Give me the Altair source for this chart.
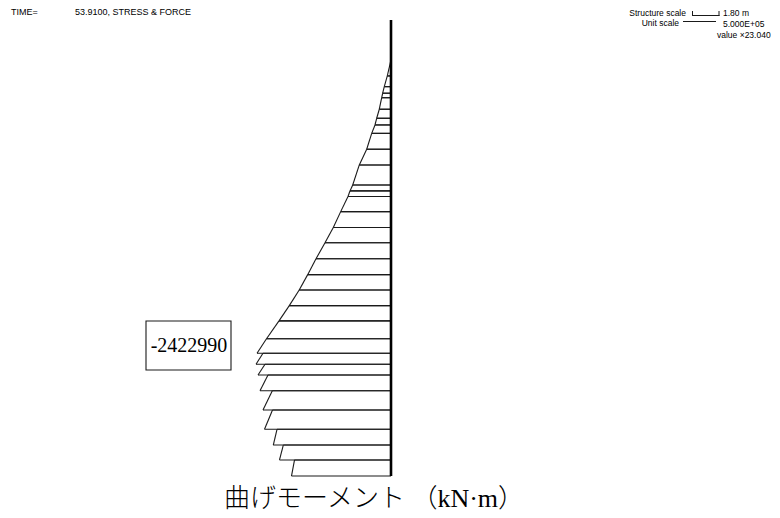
import altair as alt
import pandas as pd

# Node elevations along the member, measured up from the base (m)
node_elev = [26.74, 25.71, 25.02, 24.60, 24.31, 23.57, 22.99, 22.56, 22.02, 21.00,
             19.99, 18.70, 18.32, 17.96, 16.99, 15.97, 14.99, 13.96, 12.94, 11.95,
             10.95, 9.97, 8.82, 7.89, 7.18, 6.49, 5.48, 4.24, 3.00, 1.99, 1.03, 0.0]

# Bending moment at the upper (i) and lower (j) end of each element (kN·m)
moment_i = [0, -66400, -120300, -149000, -166900, -210000, -256700, -287200, -346400, -436100,
            -568900, -687400, -735900, -771800, -902800, -1035600, -1184600, -1346100, -1495100, -1647600,
            -1825300, -2010200, -2234500, -2297300, -2261400, -2207600, -2130400, -2126800, -2046100,
            -1933000, -1732000]
moment_j = [-66400, -120300, -149000, -166900, -210000, -256700, -287200, -346400, -436100, -568900,
            -687400, -735900, -771800, -902800, -1035600, -1184600, -1346100, -1495100, -1647600, -1825300,
            -2010200, -2234500, -2405000, -2422990, -2387100, -2351200, -2297300, -2270400, -2112500,
            -2001200, -1785800]

member_top = 29.3   # top of the member (m)
peak_label = "-2422990"

elements = pd.DataFrame({
    "e_top": node_elev[:-1],
    "e_bot": node_elev[1:],
    "m_i": moment_i,
    "m_j": moment_j,
})
elements["zero"] = 0

X_SCALE = alt.Scale(domain=[-7017700, 6981800], nice=False, zero=False)
Y_SCALE = alt.Scale(domain=[-2.70, 30.59], nice=False, zero=False)
INK = "#1a1a1a"
SANS = "'Liberation Sans', Arial, sans-serif"
SERIF = "'Liberation Serif', 'Noto Sans CJK JP', serif"


def X(field):
    return alt.X(field, type="quantitative", scale=X_SCALE, axis=None)


def Y(field):
    return alt.Y(field, type="quantitative", scale=Y_SCALE, axis=None)


base = alt.Chart(elements)

# Diagram outline within each element
outline = base.mark_rule(stroke=INK, strokeWidth=1.1).encode(
    x=X("m_i"), x2="m_j", y=Y("e_top"), y2="e_bot"
)
# Ordinates at the element ends
top_ord = base.mark_rule(stroke=INK, strokeWidth=1.1).encode(
    x=X("m_i"), x2="zero", y=Y("e_top")
)
bot_ord = base.mark_rule(stroke=INK, strokeWidth=1.1).encode(
    x=X("m_j"), x2="zero", y=Y("e_bot")
)

# The member itself
member = alt.Chart(pd.DataFrame({"m": [0], "e0": [0.0], "e1": [member_top]})).mark_rule(
    stroke="black", strokeWidth=2.6
).encode(x=X("m"), y=Y("e0"), y2="e1")


def label(text, x, y, size=9, align="left", font=SANS, color="black", weight="normal"):
    return alt.Chart(pd.DataFrame({"t": [text]})).mark_text(
        align=align, baseline="middle", fontSize=size, font=font, color=color,
        fontWeight=weight
    ).encode(text="t:N", x=alt.value(x), y=alt.value(y))


def seg(x1, y1, x2, y2, w=1.0):
    return alt.Chart(pd.DataFrame({"k": [0]})).mark_rule(stroke=INK, strokeWidth=w).encode(
        x=alt.value(x1), x2=alt.value(x2), y=alt.value(y1), y2=alt.value(y2)
    )


header = [
    label("TIME=", 11, 12),
    label("53.9100, STRESS & FORCE", 75, 12),
    label("Structure scale", 686, 13, size=8.5, align="right"),
    label("1.80 m", 723, 13, size=8.5),
    label("Unit scale", 679, 23, size=8.5, align="right"),
    label("5.000E+05", 723, 24, size=8.5),
    label("value ×23.040", 717, 35, size=8.5),
    seg(692.5, 11, 692.5, 16),
    seg(692, 15.5, 719.5, 15.5),
    seg(719, 11, 719, 16),
    seg(683, 21.5, 716, 21.5),
]

peak_box = alt.Chart(pd.DataFrame({"k": [0]})).mark_rect(
    fill="white", stroke=INK, strokeWidth=1.1
).encode(x=alt.value(146), x2=alt.value(231), y=alt.value(321), y2=alt.value(370))
peak_text = label(peak_label, 189, 346, size=20, align="center", font=SERIF)

caption = label("曲げモーメント （kN·m）", 374, 499, size=26, align="center",
                font=SERIF, weight=300)

chart = alt.layer(
    outline, top_ord, bot_ord, member, *header, peak_box, peak_text, caption
).properties(
    width=780, height=518, autosize=alt.AutoSizeParams(type="none"), padding=0,
    background="white"
).configure_view(stroke=None)

chart.save("out.html", embed_options={"renderer": "svg", "actions": False})
